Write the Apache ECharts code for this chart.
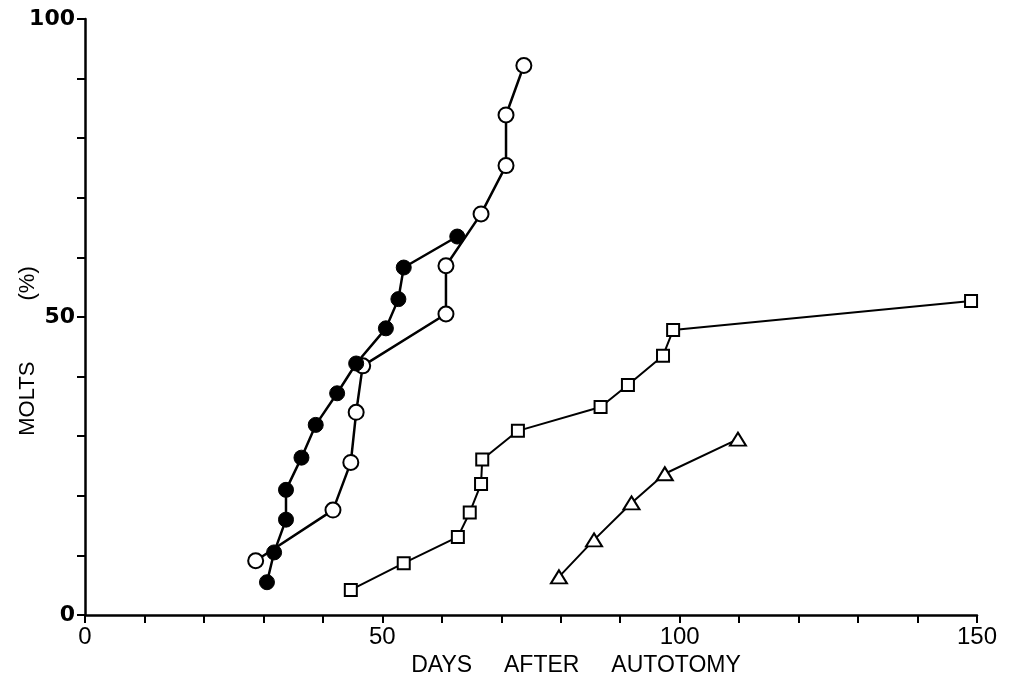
<!DOCTYPE html>
<html>
<head>
<meta charset="utf-8">
<script src="https://cdn.jsdelivr.net/npm/echarts@6/dist/echarts.min.js"></script>
<style>
html,body{margin:0;padding:0;background:#fff;}
#c{width:1010px;height:676px;}
</style>
</head>
<body>
<div id="c"></div>
<script>
// Filled circles
const filledDays = [30.6, 31.8, 33.8, 33.8, 36.4, 38.8, 42.4, 45.6, 50.6, 52.7, 53.6, 62.6];
const filledMolts = [5.5, 10.5, 16.0, 21.0, 26.4, 31.9, 37.2, 42.2, 48.1, 53.0, 58.3, 63.5];
// Open circles
const openDays = [28.7, 41.7, 44.7, 45.6, 46.7, 60.7, 60.7, 66.6, 70.8, 70.8, 73.8];
const openMolts = [9.1, 17.6, 25.6, 34.0, 41.8, 50.5, 58.6, 67.3, 75.4, 83.9, 92.2];
// Open squares
const squareDays = [44.7, 53.6, 62.7, 64.7, 66.6, 66.8, 72.8, 86.7, 91.3, 97.2, 98.9, 149.0];
const squareMolts = [4.2, 8.7, 13.1, 17.2, 22.0, 26.1, 30.9, 34.9, 38.6, 43.5, 47.8, 52.7];
// Open triangles
const triDays = [79.7, 85.6, 91.9, 97.5, 109.8];
const triMolts = [6.4, 12.6, 18.8, 23.7, 29.5];

const xLabels = [0, 50, 100, 150];
const yLabels = [0, 50, 100];
const yTitle = 'MOLTS          (%)';

function pairs(xs, ys){ return xs.map((x,i)=>[x, ys[i]]); }

const chart = echarts.init(document.getElementById('c'));
const lineBase = {type:'line', animation:false, symbolKeepAspect:true};
chart.setOption({
  backgroundColor:'#ffffff',
  animation:false,
  grid:{left:85, right:33, top:19, bottom:61, containLabel:false, outerBoundsMode:'none'},
  graphic:[{
    type:'text', x:28, y:351, rotation:Math.PI/2,
    style:{text:yTitle, fill:'#000', font:'22px "Liberation Sans"', align:'center', verticalAlign:'middle'}
  }],
  xAxis:{
    type:'value', min:0, max:150, interval:10,
    name:'DAYS     AFTER     AUTOTOMY',
    nameLocation:'middle', nameGap:36,
    nameTextStyle:{fontFamily:'Liberation Sans', fontSize:23, color:'#000', padding:[0,0,0,90]},
    axisLine:{show:true, onZero:false, lineStyle:{color:'#000', width:2.5}},
    axisTick:{show:true, inside:false, length:8, lineStyle:{color:'#000', width:2}},
    splitLine:{show:false},
    axisLabel:{
      margin:10, color:'#000', fontFamily:'Liberation Sans', fontSize:24,
      formatter:(v)=> xLabels.includes(v) ? String(v) : ''
    }
  },
  yAxis:{
    type:'value', min:0, max:100, interval:10,
    axisLine:{show:true, onZero:false, lineStyle:{color:'#000', width:2.5}},
    axisTick:{show:true, inside:false, length:8, lineStyle:{color:'#000', width:2}},
    splitLine:{show:false},
    axisLabel:{
      margin:10, color:'#000', fontFamily:'DejaVu Sans', fontWeight:'bold', fontSize:22,
      formatter:(v)=> yLabels.includes(v) ? String(v) : ''
    }
  },
  series:[
    Object.assign({}, lineBase, {
      name:'squares', data:pairs(squareDays, squareMolts),
      symbol:'rect', symbolSize:12,
      lineStyle:{color:'#000', width:2},
      itemStyle:{color:'#fff', borderColor:'#000', borderWidth:2},
      z:2
    }),
    Object.assign({}, lineBase, {
      name:'triangles', data:pairs(triDays, triMolts),
      symbol:'triangle', symbolSize:[16,13],
      lineStyle:{color:'#000', width:2},
      itemStyle:{color:'#fff', borderColor:'#000', borderWidth:2},
      z:2
    }),
    Object.assign({}, lineBase, {
      name:'open', data:pairs(openDays, openMolts),
      symbol:'circle', symbolSize:15,
      lineStyle:{color:'#000', width:2.5},
      itemStyle:{color:'#fff', borderColor:'#000', borderWidth:2},
      z:3
    }),
    Object.assign({}, lineBase, {
      name:'filled', data:pairs(filledDays, filledMolts),
      symbol:'circle', symbolSize:15,
      lineStyle:{color:'#000', width:2.5},
      itemStyle:{color:'#000', borderColor:'#000', borderWidth:1},
      z:4
    })
  ]
});
</script>
</body>
</html>
